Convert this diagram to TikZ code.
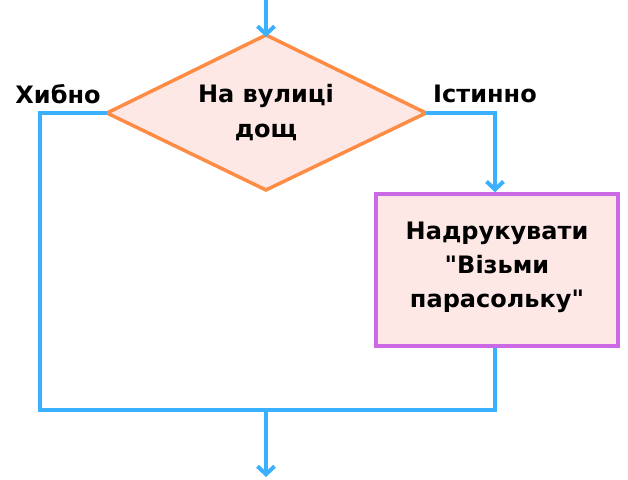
\documentclass[tikz,border=0pt]{standalone}
\usepackage{fontspec}
\setmainfont{DejaVu Sans}
\usetikzlibrary{arrows.meta,shapes.geometric}
\definecolor{flowblue}{HTML}{3BB0FF}
\definecolor{diaorange}{HTML}{FF8C45}
\definecolor{boxpurple}{HTML}{CC6AE6}
\definecolor{softpink}{HTML}{FDE8E6}
\tikzset{
  flow/.style={draw=flowblue,line width=4pt},
  flowarrow/.style={flow,-{Straight Barb[length=8pt,width=17pt,line width=4pt]}},
  lbl/.style={font=\bfseries\fontsize{24}{35}\selectfont,text=black,align=center,inner sep=0pt},
}
\begin{document}
\begin{tikzpicture}[x=1pt,y=-1pt]
\useasboundingbox (0,0) rectangle (628,479);
% diamond
\coordinate (dt) at (266,35);
\coordinate (dl) at (107,113);
\coordinate (dr) at (426,113);
\coordinate (db) at (266,190);
\filldraw[fill=softpink,draw=diaorange,line width=3.5pt,line join=miter] (dt) -- (dr) -- (db) -- (dl) -- cycle;
\node[lbl] (dtext) at (266,113) {На вулиці\\дощ};
% box
\node[draw=boxpurple,fill=softpink,line width=3.5pt,minimum width=242pt,minimum height=152pt,inner sep=0pt] (box) at (497,270) {};
\node[lbl,font=\bfseries\fontsize{24}{34}\selectfont] (btext) at (497,267) {Надрукувати\\\textquotedbl Візьми\\парасольку\textquotedbl};
% labels
\node[lbl] (no) at (58,94) {Хибно};
\node[lbl] (yes) at (485,94) {Істинно};
% connectors
\coordinate (top) at (266,0);
\draw[flowarrow] (top) -- ([yshift=-2pt]dt);
\coordinate (ltop) at (40,113);
\coordinate (lbot) at (40,410);
\coordinate (merge) at (266,410);
\coordinate (rtop) at (495,113);
\coordinate (rbot) at (495,410);
\draw[flow,line join=miter] (dl) -- (ltop) -- (lbot) -- (rbot) -- (box.south -| rbot);
\draw[flowarrow,line join=miter] (dr) -- (rtop) -- (box.north -| rtop);
\coordinate (end) at (266,477);
\draw[flowarrow] (merge) -- (end);
\end{tikzpicture}
\end{document}
